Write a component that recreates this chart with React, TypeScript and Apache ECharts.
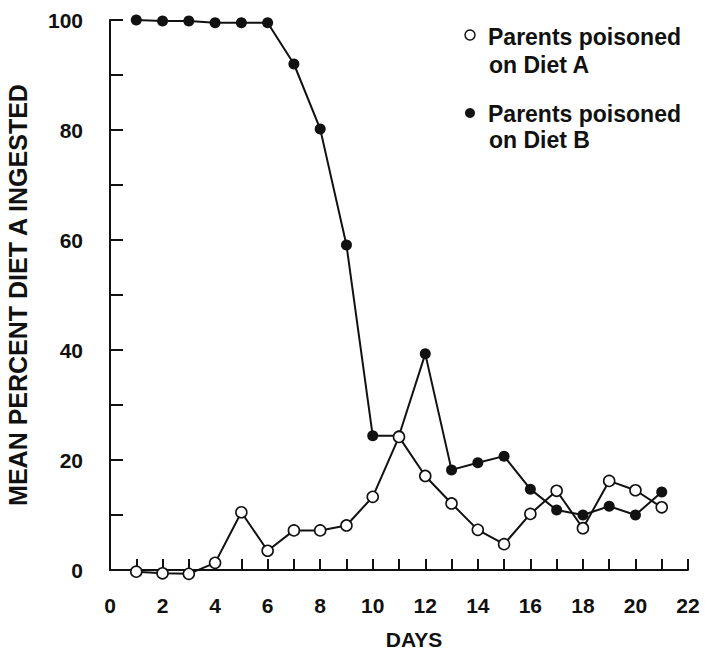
import React, { useEffect, useRef } from "react";
import * as echarts from "echarts";

const days = [1, 2, 3, 4, 5, 6, 7, 8, 9, 10, 11, 12, 13, 14, 15, 16, 17, 18, 19, 20, 21];
const dietA = [-0.3, -0.6, -0.7, 1.3, 10.5, 3.5, 7.2, 7.2, 8.1, 13.3, 24.2, 17.1, 12.1, 7.3, 4.7, 10.2, 14.4, 7.6, 16.2, 14.5, 11.4];
const dietB = [100, 99.8, 99.8, 99.5, 99.5, 99.5, 92.0, 80.2, 59.1, 24.4, 24.4, 39.3, 18.2, 19.5, 20.7, 14.7, 10.9, 10.0, 11.6, 10.0, 14.2];
const legendA = ["Parents poisoned", "on Diet A"];
const legendB = ["Parents poisoned", "on Diet B"];
const yTitle = "MEAN PERCENT DIET A INGESTED";
const xTitle = "DAYS";

const FONT = "'Liberation Sans', Arial, Helvetica, sans-serif";
const INK = "#111";

export default function App() {
  const ref = useRef<HTMLDivElement>(null);
  useEffect(() => {
    if (!ref.current) return;
    const chart = echarts.init(ref.current, undefined, { renderer: "svg" });
    const txt = (x: number, y: number, s: string, size: number, extra: any = {}) => ({
      type: "text",
      x,
      y,
      ...extra,
      style: {
        text: s,
        fill: INK,
        font: `bold ${size}px ${FONT}`,
        align: extra.align || "left",
        verticalAlign: "middle",
      },
    });
    chart.setOption({
      animation: false,
      backgroundColor: "#fff",
      grid: { left: 110, right: 17, top: 20, bottom: 81 },
      xAxis: {
        type: "value",
        min: 0,
        max: 22,
        interval: 1,
        offset: 16,
        axisLine: { show: true, lineStyle: { color: INK, width: 2 } },
        axisTick: { show: true, inside: true, length: 11, lineStyle: { color: INK, width: 2 } },
        splitLine: { show: false },
        axisLabel: {
          margin: 9,
          color: INK,
          fontFamily: FONT,
          fontWeight: "bold",
          fontSize: 21,
          formatter: (v: number) => (v % 2 === 0 ? String(v) : ""),
        },
      },
      yAxis: {
        type: "value",
        min: 0,
        max: 100,
        interval: 10,
        offset: 15,
        axisLine: { show: true, lineStyle: { color: INK, width: 2 } },
        axisTick: { show: true, inside: true, length: 13, lineStyle: { color: INK, width: 2 } },
        splitLine: { show: false },
        axisLabel: {
          margin: 12,
          color: INK,
          fontFamily: FONT,
          fontWeight: "bold",
          fontSize: 21,
          formatter: (v: number) => (v % 20 === 0 ? String(v) : ""),
        },
      },
      series: [
        {
          type: "line",
          name: "Parents poisoned on Diet B",
          data: days.map((d, i) => [d, dietB[i]]),
          clip: false,
          symbol: "circle",
          symbolSize: 11,
          lineStyle: { color: INK, width: 2 },
          itemStyle: { color: INK, borderColor: INK, borderWidth: 0 },
          z: 2,
        },
        {
          type: "line",
          name: "Parents poisoned on Diet A",
          data: days.map((d, i) => [d, dietA[i]]),
          clip: false,
          symbol: "circle",
          symbolSize: 11,
          showAllSymbol: true,
          lineStyle: { color: INK, width: 2 },
          itemStyle: { color: "#fff", borderColor: INK, borderWidth: 1.6 },
          z: 3,
        },
      ],
      graphic: [
        { type: "circle", shape: { cx: 470, cy: 35, r: 5 }, style: { fill: "#fff", stroke: INK, lineWidth: 1.5 } },
        txt(488, 37, legendA[0], 23),
        txt(489, 65, legendA[1], 23),
        { type: "circle", shape: { cx: 470, cy: 113, r: 5 }, style: { fill: INK } },
        txt(488, 114, legendB[0], 23),
        txt(489, 140, legendB[1], 23),
        txt(414, 639.5, xTitle, 21, { align: "center" }),
        {
          type: "text",
          x: 18,
          y: 295,
          rotation: Math.PI / 2,
          style: {
            text: yTitle,
            fill: INK,
            font: `bold 25px ${FONT}`,
            align: "center",
            verticalAlign: "middle",
          },
        },
      ],
    });
    return () => chart.dispose();
  }, []);
  return (
    <div
      ref={ref}
      style={{ position: "fixed", left: 0, top: 0, width: 705, height: 651, background: "#fff" }}
    />
  );
}
